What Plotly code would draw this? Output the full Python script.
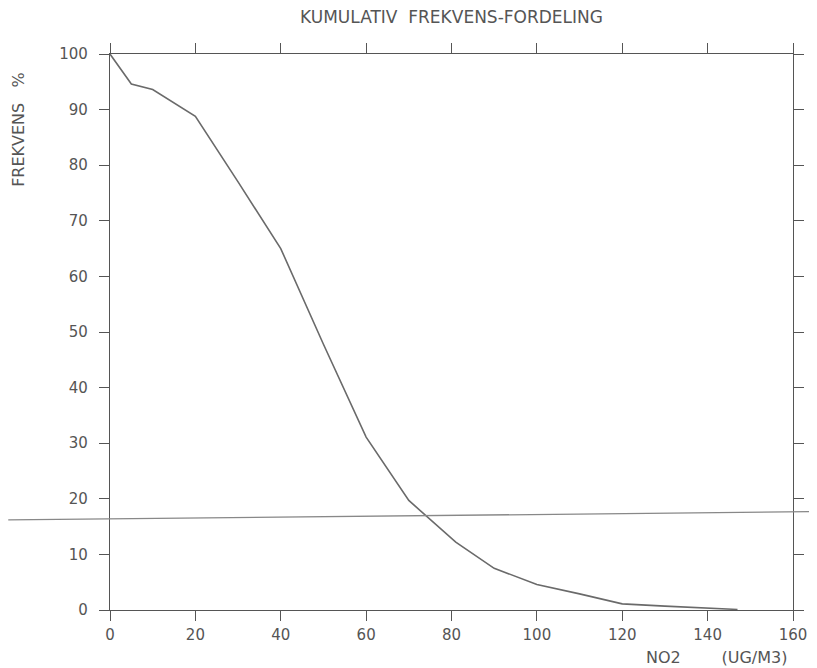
import plotly.graph_objects as go

# Data
no2 = [0, 5, 10, 20, 30, 40, 50, 60, 70, 81, 90, 100, 110, 120, 130, 140, 147]
freq = [100, 94.6, 93.6, 88.8, 77.0, 65.0, 47.8, 31.1, 19.7, 12.2, 7.5, 4.6, 2.9, 1.1, 0.7, 0.4, 0.1]

x_ticks = [0, 20, 40, 60, 80, 100, 120, 140, 160]
y_ticks = [0, 10, 20, 30, 40, 50, 60, 70, 80, 90, 100]

ref_left = 16.2
ref_right = 17.7

title_text = "KUMULATIV  FREKVENS-FORDELING"
y_title = "FREKVENS   %"
x_title = "NO2        (UG/M3)"

ink = "#555555"
font_family = "DejaVu Sans"

fig = go.Figure()
fig.add_trace(go.Scatter(
    x=no2, y=freq, mode="lines",
    line=dict(color="#6a6a6a", width=1.6),
    hoverinfo="skip", showlegend=False,
))

fig.add_shape(
    type="line", xref="paper", yref="y",
    x0=-0.149, x1=1.035, y0=ref_left, y1=ref_right,
    line=dict(color="#888888", width=1.3),
)

axis_common = dict(
    showgrid=False, zeroline=False,
    showline=True, linecolor=ink, linewidth=1.4,
    mirror="ticks", ticks="outside", ticklen=10, tickwidth=1.3, tickcolor=ink,
    tickfont=dict(family=font_family, size=15, color=ink),
)

fig.update_xaxes(
    range=[0, 160], tickvals=x_ticks, ticktext=[str(v) for v in x_ticks],
    ticklabelstandoff=1, **axis_common,
)
fig.update_yaxes(
    range=[0, 100], tickvals=y_ticks, ticktext=[str(v) for v in y_ticks],
    ticklabelstandoff=8, **axis_common,
)

fig.update_layout(
    width=817, height=668,
    margin=dict(l=102, r=32, t=46, b=66),
    paper_bgcolor="white", plot_bgcolor="white",
    title=dict(text=title_text, x=0.5, xref="paper", xanchor="center", y=0.9865, yanchor="middle",
               font=dict(family=font_family, size=17, color=ink)),
    annotations=[
        dict(text=y_title, xref="paper", yref="paper", x=-0.135, y=0.865,
             xanchor="center", yanchor="middle", textangle=-90, showarrow=False,
             font=dict(family=font_family, size=16, color=ink)),
        dict(text=x_title, xref="paper", yref="paper", x=0.994, y=-0.086,
             xanchor="right", yanchor="middle", showarrow=False,
             font=dict(family=font_family, size=16, color=ink)),
    ],
)

fig.write_html("out.html")
